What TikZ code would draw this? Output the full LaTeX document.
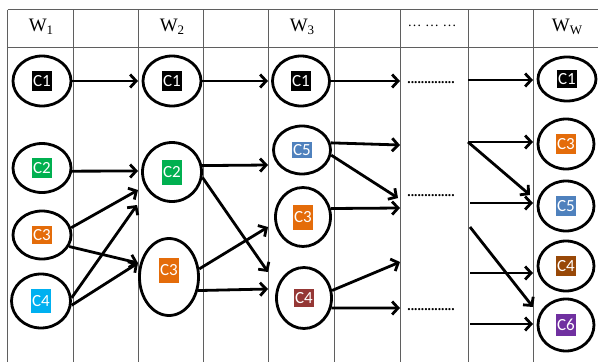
\documentclass[tikz,border=0pt]{standalone}
\usepackage{fontspec}
\setmainfont{Liberation Serif}
\newfontfamily\lab{Carlito}
\usetikzlibrary{shapes.geometric,arrows.meta}
\definecolor{cgreen}{RGB}{0,176,80}
\definecolor{corange}{RGB}{228,108,10}
\definecolor{ccyan}{RGB}{0,176,240}
\definecolor{cblue}{RGB}{79,129,189}
\definecolor{cdred}{RGB}{149,55,53}
\definecolor{cbrown}{RGB}{152,72,7}
\definecolor{cpurple}{RGB}{112,48,160}
\definecolor{gridc}{RGB}{95,95,95}
\tikzset{
  gridline/.style={draw=gridc, line width=1pt},
  ell/.style={draw, ellipse, line width=2.8pt, inner sep=0pt},
  lb/.style={fill=#1, text=white, font=\lab\fontsize{17}{17}\selectfont, minimum width=20pt, inner sep=0pt},
  arr/.style={line width=2.8pt, -{Straight Barb[length=6pt,width=13pt]}},
  head/.style={font=\fontsize{19}{19}\selectfont, inner sep=0pt},
  dots/.style={font=\bfseries\fontsize{13.5}{13.5}\selectfont, inner sep=0pt}
}
\begin{document}
\begin{tikzpicture}[x=1pt,y=-1pt]
\useasboundingbox (0,0) rectangle (598,362);
% grid
\foreach \x in {7.5,73,138,203,268,334,400,468,533}
  \draw[gridline] (\x,9.5) -- (\x,362);
\draw[gridline] (7.5,9.5) -- (598,9.5);
\draw[gridline] (7.5,47) -- (598,47);
% headers
\node[head] (h1) at (41,27) {W\raisebox{-3pt}{\fontsize{13}{13}\selectfont 1}};
\node[head] (h2) at (172,27) {W\raisebox{-3pt}{\fontsize{13}{13}\selectfont 2}};
\node[head] (h3) at (302,27) {W\raisebox{-3pt}{\fontsize{13}{13}\selectfont 3}};
\node[head, font=\fontsize{14}{14}\selectfont] (h4) at (432,26) {…\ …\ …};
\node[head] (h5) at (567,27) {W\raisebox{-3pt}{\fontsize{13}{13}\selectfont W}};
% middle dots
\node[dots] (d1) at (431,83) {..............};
\node[dots] (d2) at (431,196) {..............};
\node[dots] (d3) at (431,310) {..............};
% column 1
\node[ell, minimum width=58pt, minimum height=50pt, label={[lb=black, minimum height=20pt]center:C1}] (c1a) at (42,81) {};
\node[ell, minimum width=58pt, minimum height=49pt, label={[lb=cgreen, minimum height=20pt]center:C2}] (c2a) at (42,168) {};
\node[ell, minimum width=58pt, minimum height=48pt, label={[lb=corange, minimum height=18pt]center:C3}] (c3a) at (42,235) {};
\node[ell, minimum width=59pt, minimum height=54pt, label={[lb=ccyan, minimum height=24pt]center:C4}] (c4a) at (41,301) {};
% column 2
\node[ell, minimum width=58pt, minimum height=50pt, label={[lb=black, minimum height=20pt]center:C1}] (c1b) at (172,81) {};
\node[ell, minimum width=59pt, minimum height=59pt, label={[lb=cgreen, minimum height=25pt]center:C2}] (c2b) at (172,172) {};
\node[ell, minimum width=59pt, minimum height=77pt, label={[lb=corange, minimum height=25pt, yshift=7pt]center:C3}] (c3b) at (169,277) {};
% column 3
\node[ell, minimum width=57pt, minimum height=50pt, label={[lb=black, minimum height=20pt]center:C1}] (c1c) at (301,81) {};
\node[ell, minimum width=57pt, minimum height=48pt, label={[lb=cblue, minimum height=16pt]center:C5}] (c5c) at (302,150) {};
\node[ell, minimum width=55pt, minimum height=59pt, label={[lb=corange, minimum height=25pt]center:C3}] (c3c) at (303,217) {};
\node[ell, minimum width=55pt, minimum height=61pt, label={[lb=cdred, minimum height=18pt]center:C4}] (c4c) at (304,298) {};
% column W
\node[ell, minimum width=58pt, minimum height=44pt, label={[lb=black, minimum height=18pt]center:C1}] (c1d) at (567,79) {};
\node[ell, minimum width=56pt, minimum height=50pt, label={[lb=corange, minimum height=20pt]center:C3}] (c3d) at (566,144) {};
\node[ell, minimum width=56pt, minimum height=50pt, label={[lb=cblue, minimum height=20pt]center:C5}] (c5d) at (566,206) {};
\node[ell, minimum width=56pt, minimum height=50pt, label={[lb=cbrown, minimum height=20pt]center:C4}] (c4d) at (566,266) {};
\node[ell, minimum width=56pt, minimum height=52pt, label={[lb=cpurple, minimum height=22pt]center:C6}] (c6d) at (566,325) {};
% arrow end points at column lines
\coordinate (tb1) at (138,81);
\coordinate (tb2) at (138,171);
\coordinate (tb3) at (138,190);
\coordinate (tb4) at (137,205);
\coordinate (tb5) at (138,263);
\coordinate (tc1) at (268,81);
\coordinate (tc2) at (268,165);
\coordinate (tc3) at (268,227);
\coordinate (tc4) at (268,272);
\coordinate (tc5) at (268,289);
\coordinate (td1) at (400,81);
\coordinate (td2) at (400,145);
\coordinate (td3) at (398,198);
\coordinate (td4) at (400,208);
\coordinate (td5) at (400,262);
\coordinate (td6) at (400,308);
\coordinate (s1) at (468,80);
\coordinate (s2) at (468,142);
\coordinate (s3) at (470,203);
\coordinate (s4) at (470,227);
\coordinate (s5) at (470,273);
\coordinate (s6) at (470,324);
\coordinate (te1) at (533,80);
\coordinate (te2) at (533,142);
\coordinate (te3) at (530,195);
\coordinate (te4) at (533,203);
\coordinate (te5) at (533,307);
\coordinate (te6) at (533,273);
\coordinate (te7) at (533,324);
% arrows col1 -> col2
\draw[arr] (c1a.east) -- (tb1);
\draw[arr] (c2a.354) -- (tb2);
\draw[arr] (c3a.14) -- (tb3);
\draw[arr] (c3a.337) -- (tb5);
\draw[arr] (c4a.6) -- (tb4);
\draw[arr] (c4a.352) -- (tb5);
% col2 -> col3
\draw[arr] (c1b.east) -- (tc1);
\draw[arr] (c2b.12) -- (tc2);
\draw[arr] (c2b.350) -- (tc4);
\draw[arr] (c3b.15) -- (tc3);
\draw[arr] (c3b.335) -- (tc5);
% col3 -> dots
\draw[arr] (c1c.east) -- (td1);
\draw[arr] (c5c.14) -- (td2);
\draw[arr] (c5c.350) -- (td3);
\draw[arr] (c3c.17) -- (td4);
\draw[arr] (c4c.15) -- (td5);
\draw[arr] (c4c.340) -- (td6);
% dots -> col W
\draw[arr] (s1) -- (te1);
\draw[arr] (s2) -- (te2);
\draw[arr] (s2) -- (te3);
\draw[arr] (s3) -- (te4);
\draw[arr] (s4) -- (te5);
\draw[arr] (s5) -- (te6);
\draw[arr] (s6) -- (te7);
\end{tikzpicture}
\end{document}
